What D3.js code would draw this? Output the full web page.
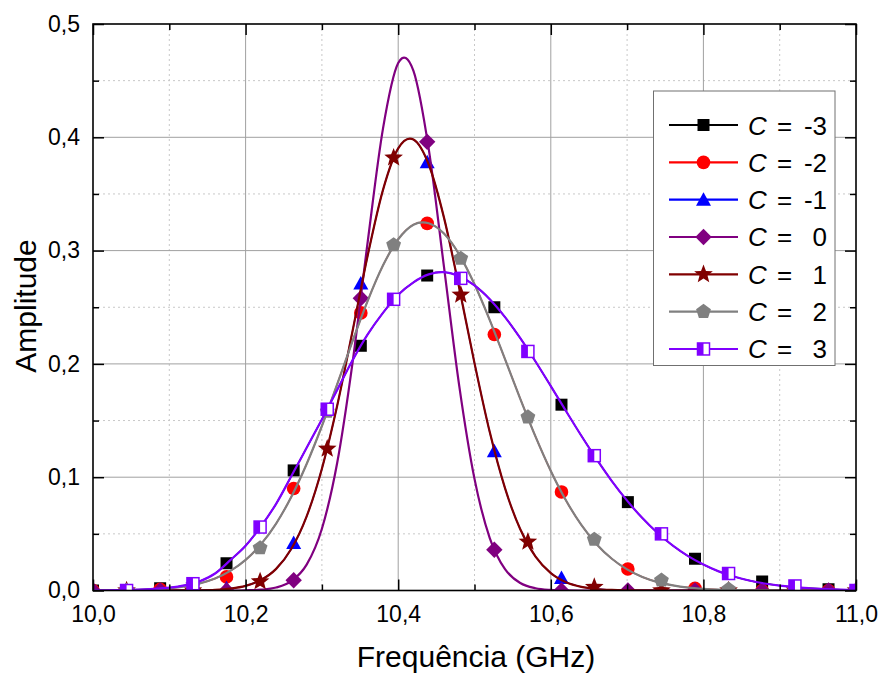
<!DOCTYPE html>
<html><head><meta charset="utf-8">
<script src="https://cdn.jsdelivr.net/npm/d3@7"></script>
<style>body{margin:0;background:#fff}svg{display:block;font-family:"Liberation Sans",Arial,sans-serif}</style>
</head><body><svg id="c" width="883" height="675"></svg>
<script>
// ---------- data ----------
const lineFreq = [10.00,10.02,10.04,10.06,10.08,10.10,10.12,10.14,10.16,10.18,10.20,10.22,10.24,10.26,10.28,10.30,10.32,10.34,10.36,10.38,10.40,10.42,10.44,10.46,10.48,10.50,10.52,10.54,10.56,10.58,10.60,10.62,10.64,10.66,10.68,10.70,10.72,10.74,10.76,10.78,10.80,10.82,10.84,10.86,10.88,10.90,10.92,10.94,10.96,10.98,11.00];
// curve shared by C = 0
const curveC0 = [0,0,0,0,0,0,0,0,0,0,0.0002,0.0007,0.0026,0.0082,0.0228,0.0545,0.1125,0.2003,0.3076,0.4074,0.4655,0.4586,0.3898,0.2857,0.1806,0.0985,0.0463,0.0188,0.0066,0.0020,0.0005,0.0001,0,0,0,0,0,0,0,0,0,0,0,0,0,0,0,0,0,0,0];
// curve shared by C = -1 and C = 1
const curveC1 = [0,0,0,0,0,0,0.0001,0.0002,0.0006,0.0017,0.0041,0.0092,0.0191,0.0368,0.0654,0.1075,0.1630,0.2284,0.2956,0.3534,0.3902,0.3980,0.3760,0.3291,0.2670,0.2007,0.1398,0.0903,0.0540,0.0299,0.0154,0.0073,0.0032,0.0013,0.0005,0.0002,0.0001,0,0,0,0,0,0,0,0,0,0,0,0,0,0];
// curve shared by C = -2 and C = 2
const curveC2 = [0.0001,0.0001,0.0003,0.0005,0.0011,0.0020,0.0036,0.0063,0.0106,0.0173,0.0270,0.0407,0.0591,0.0828,0.1117,0.1452,0.1820,0.2198,0.2557,0.2868,0.3100,0.3229,0.3242,0.3150,0.2965,0.2703,0.2387,0.2042,0.1692,0.1358,0.1055,0.0794,0.0579,0.0409,0.0280,0.0186,0.0119,0.0074,0.0045,0.0026,0.0015,0.0008,0.0004,0.0002,0.0001,0,0,0,0,0,0];
// curve shared by C = -3 and C = 3
const curveC3 = [0.0001,0.0002,0.0004,0.0008,0.0015,0.0025,0.0045,0.0082,0.0150,0.0268,0.0395,0.0565,0.0765,0.1010,0.1260,0.1510,0.1770,0.2030,0.2260,0.2450,0.2610,0.2720,0.2790,0.2810,0.2773,0.2693,0.2571,0.2413,0.2227,0.2021,0.1804,0.1583,0.1366,0.1159,0.0966,0.0793,0.0639,0.0507,0.0395,0.0303,0.0229,0.0169,0.0123,0.0088,0.0062,0.0043,0.0029,0.0020,0.0013,0.0008,0.0005];

const evenFreq = [10.000,10.088,10.175,10.263,10.351,10.438,10.526,10.614,10.701,10.789,10.877,10.964];
const oddFreq  = [10.044,10.131,10.219,10.307,10.394,10.482,10.570,10.657,10.745,10.833,10.920,11.000];

const markM3 = [0.000,0.002,0.024,0.106,0.216,0.278,0.250,0.164,0.078,0.028,0.008,0.001];
const markM2 = [0.000,0.001,0.012,0.090,0.245,0.324,0.226,0.087,0.019,0.002,0.000,0.000];
const markM1 = [0.000,0.000,0.002,0.042,0.271,0.378,0.123,0.011,0.000,0.000,0.000,0.000];
const mark0  = [0.000,0.000,0.000,0.009,0.258,0.396,0.036,0.000,0.000,0.000,0.000,0.000];
const markP1 = [0.000,0.000,0.008,0.125,0.382,0.261,0.043,0.003,0.000,0.000,0.000,0.000];
const markP2 = [0.000,0.005,0.0375,0.158,0.305,0.293,0.153,0.045,0.009,0.001,0.000,0.000];
const markP3 = [0.000,0.006,0.056,0.160,0.257,0.2755,0.211,0.119,0.050,0.015,0.004,0.000];

const seriesLabels = ["-3","-2","-1","0","1","2","3"];
const seriesColors = ["#000000","#ff0000","#0000ff","#800080","#800000","#808080","#8000ff"];

const xMajor = [10.0,10.2,10.4,10.6,10.8,11.0];
const xMinor = [10.1,10.3,10.5,10.7,10.9];
const yMajor = [0,0.1,0.2,0.3,0.4,0.5];
const yMinor = [0.05,0.15,0.25,0.35,0.45];

// ---------- layout ----------
const L = 93, R = 856, T = 24, B = 590.5;
const svg = d3.select("#c");
const x = d3.scaleLinear().domain([10, 11]).range([L, R]);
const y = d3.scaleLinear().domain([0, 0.5]).range([B, T]);
const fmt = d => d3.format(".1f")(d).replace(".", ",");

svg.append("defs").append("clipPath").attr("id","clip")
  .append("rect").attr("x",L).attr("y",T).attr("width",R-L).attr("height",B-T);

// grid
const grid = svg.append("g");
grid.selectAll(".vmin").data(xMinor).join("line")
  .attr("x1",d=>x(d)).attr("x2",d=>x(d)).attr("y1",T).attr("y2",B)
  .attr("stroke","#c8c8c8").attr("stroke-width",1).attr("stroke-dasharray","2,3");
grid.selectAll(".hmin").data(yMinor).join("line")
  .attr("y1",d=>y(d)).attr("y2",d=>y(d)).attr("x1",L).attr("x2",R)
  .attr("stroke","#c8c8c8").attr("stroke-width",1).attr("stroke-dasharray","2,3");
grid.selectAll(".vmaj").data(xMajor.slice(1,-1)).join("line")
  .attr("x1",d=>x(d)).attr("x2",d=>x(d)).attr("y1",T).attr("y2",B)
  .attr("stroke","#a0a0a0").attr("stroke-width",1);
grid.selectAll(".hmaj").data(yMajor.slice(1,-1)).join("line")
  .attr("y1",d=>y(d)).attr("y2",d=>y(d)).attr("x1",L).attr("x2",R)
  .attr("stroke","#a0a0a0").attr("stroke-width",1);

// marker shapes
function starPath(Ro, Ri){
  let p = [];
  for (let i=0;i<10;i++){
    const r = i%2===0 ? Ro : Ri;
    const a = -Math.PI/2 + i*Math.PI/5;
    p.push([r*Math.cos(a), r*Math.sin(a)]);
  }
  return "M"+p.map(q=>q[0].toFixed(2)+","+q[1].toFixed(2)).join("L")+"Z";
}
function polyPath(n, Ro){
  let p = [];
  for (let i=0;i<n;i++){
    const a = -Math.PI/2 + i*2*Math.PI/n;
    p.push([Ro*Math.cos(a), Ro*Math.sin(a)]);
  }
  return "M"+p.map(q=>q[0].toFixed(2)+","+q[1].toFixed(2)).join("L")+"Z";
}
const shapes = {
  square:   g => g.append("path").attr("d","M-6,-6h12v12h-12Z"),
  circle:   g => g.append("circle").attr("r",6.8),
  triangle: g => g.append("path").attr("d","M0,-7.5L7.5,6L-7.5,6Z"),
  diamond:  g => g.append("path").attr("d","M0,-8.2L8.2,0L0,8.2L-8.2,0Z"),
  star:     g => g.append("path").attr("d",starPath(9.8,4.2)),
  pentagon: g => g.append("path").attr("d",polyPath(5,7.8)),
  half:     g => {
    g.append("rect").attr("x",-6).attr("y",-6).attr("width",12).attr("height",12)
      .attr("fill","#fff").attr("stroke","currentColor").attr("stroke-width",1.5);
    g.append("rect").attr("x",-6).attr("y",-6).attr("width",6).attr("height",12)
      .attr("fill","currentColor");
  }
};

const series = [
  {label:seriesLabels[0], color:seriesColors[0], curve:curveC3, freq:evenFreq, vals:markM3, shape:"square",   w:1.4},
  {label:seriesLabels[1], color:seriesColors[1], curve:curveC2, freq:evenFreq, vals:markM2, shape:"circle",   w:1.4},
  {label:seriesLabels[2], color:seriesColors[2], curve:curveC1, freq:evenFreq, vals:markM1, shape:"triangle", w:1.4},
  {label:seriesLabels[3], color:seriesColors[3], curve:curveC0, freq:evenFreq, vals:mark0,  shape:"diamond",  w:2.2},
  {label:seriesLabels[4], color:seriesColors[4], curve:curveC1, freq:oddFreq,  vals:markP1, shape:"star",     w:2.2},
  {label:seriesLabels[5], color:seriesColors[5], curve:curveC2, freq:oddFreq,  vals:markP2, shape:"pentagon", w:2.2},
  {label:seriesLabels[6], color:seriesColors[6], curve:curveC3, freq:oddFreq,  vals:markP3, shape:"half",     w:2.2}
];

const line = d3.line().x(d=>x(d[0])).y(d=>y(d[1])).curve(d3.curveCardinal.tension(0));
const plot = svg.append("g").attr("clip-path","url(#clip)");
series.forEach(s => {
  const g = plot.append("g").attr("color", s.color).attr("fill", s.color);
  g.append("path").datum(lineFreq.map((f,i)=>[f, s.curve[i]]))
    .attr("d", line).attr("fill","none").attr("stroke", s.color).attr("stroke-width",s.w);
  s.freq.forEach((f,i) => {
    const m = g.append("g").attr("transform",`translate(${x(f)},${y(s.vals[i])})`);
    shapes[s.shape](m);
  });
});

// axes (inward ticks)
function styleAxis(g){ g.select(".domain").remove(); g.selectAll("line").attr("stroke","#000").attr("stroke-width",1.5); }
svg.append("g").attr("transform",`translate(0,${B})`)
  .call(d3.axisBottom(x).tickValues(xMajor).tickFormat(fmt).tickSizeInner(-11).tickSizeOuter(0).tickPadding(15))
  .call(styleAxis).call(g=>g.selectAll("text").attr("font-size",23).attr("fill","#000").attr("font-family","Liberation Sans, Arial, sans-serif"));
svg.append("g").attr("transform",`translate(0,${B})`)
  .call(d3.axisBottom(x).tickValues(xMinor).tickFormat("").tickSizeInner(-6).tickSizeOuter(0)).call(styleAxis);
svg.append("g").attr("transform",`translate(0,${T})`)
  .call(d3.axisTop(x).tickValues(xMajor).tickFormat("").tickSizeInner(-11).tickSizeOuter(0)).call(styleAxis);
svg.append("g").attr("transform",`translate(0,${T})`)
  .call(d3.axisTop(x).tickValues(xMinor).tickFormat("").tickSizeInner(-6).tickSizeOuter(0)).call(styleAxis);
svg.append("g").attr("transform",`translate(${L},0)`)
  .call(d3.axisLeft(y).tickValues(yMajor).tickFormat(fmt).tickSizeInner(-11).tickSizeOuter(0).tickPadding(13))
  .call(styleAxis).call(g=>g.selectAll("text").attr("font-size",23).attr("fill","#000").attr("font-family","Liberation Sans, Arial, sans-serif"));
svg.append("g").attr("transform",`translate(${L},0)`)
  .call(d3.axisLeft(y).tickValues(yMinor).tickFormat("").tickSizeInner(-6).tickSizeOuter(0)).call(styleAxis);
svg.append("g").attr("transform",`translate(${R},0)`)
  .call(d3.axisRight(y).tickValues(yMajor).tickFormat("").tickSizeInner(-11).tickSizeOuter(0)).call(styleAxis);
svg.append("g").attr("transform",`translate(${R},0)`)
  .call(d3.axisRight(y).tickValues(yMinor).tickFormat("").tickSizeInner(-6).tickSizeOuter(0)).call(styleAxis);

svg.append("rect").attr("x",L).attr("y",T).attr("width",R-L).attr("height",B-T)
  .attr("fill","none").attr("stroke","#000").attr("stroke-width",1.6);

// titles
svg.append("text").attr("x",476).attr("y",667).attr("text-anchor","middle")
  .attr("font-size",30).text("Frequência (GHz)");
svg.append("text").attr("transform","translate(36,306) rotate(-90)").attr("text-anchor","middle")
  .attr("font-size",30).text("Amplitude");

// legend
const lg = svg.append("g");
lg.append("rect").attr("x",653.5).attr("y",91).attr("width",181.5).attr("height",274.5)
  .attr("fill","#fff").attr("stroke","#707070").attr("stroke-width",1);
series.forEach((s,i) => {
  const cy = 125 + i*37.33;
  const g = lg.append("g").attr("color", s.color).attr("fill", s.color);
  g.append("line").attr("x1",669).attr("x2",738).attr("y1",cy).attr("y2",cy)
    .attr("stroke", s.color).attr("stroke-width",2.2);
  shapes[s.shape](g.append("g").attr("transform",`translate(703.5,${cy})`));
  const t = lg.append("g").attr("font-size",26).attr("fill","#000");
  t.append("text").attr("x",748).attr("y",cy+9.5).attr("font-style","italic").text("C");
  t.append("text").attr("x",777).attr("y",cy+9.5).text("=");
  t.append("text").attr("x",827).attr("y",cy+9.5).attr("text-anchor","end").text(s.label);
});
</script>
</body></html>
